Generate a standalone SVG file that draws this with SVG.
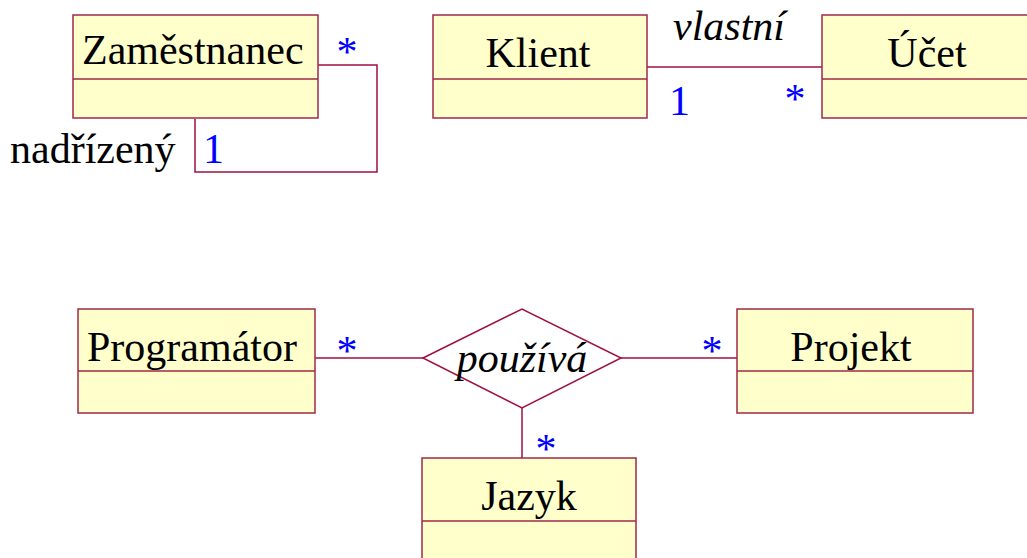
<svg xmlns="http://www.w3.org/2000/svg" width="1027" height="558" viewBox="0 0 1027 558">
<style>
.box{fill:#FFFFCC;stroke:#A0284A;stroke-width:1.5}
.div{stroke:#A0284A;stroke-width:1.5}
.ln{fill:none;stroke:#A0103F;stroke-width:1.5}
.t{font-family:"Liberation Serif","Times New Roman",serif;font-size:42px;fill:#000}
.i{font-style:italic}
.m{font-family:"Liberation Serif","Times New Roman",serif;font-size:42px;fill:#0000FF}
</style>
<rect width="1027" height="558" fill="#fff"/>
<g id="connectors">
<polyline class="ln" points="318,65 377,65 377,172 195,172 195,119"/>
<line class="ln" x1="647" y1="67" x2="822" y2="67"/>
<line class="ln" x1="307" y1="358" x2="423" y2="358"/>
<line class="ln" x1="621" y1="358" x2="737" y2="358"/>
<line class="ln" x1="522" y1="408" x2="522" y2="458"/>
<text class="m" x="347" y="66" text-anchor="middle">*</text>
<text class="t" x="10" y="163">nadřízený</text>
<text class="m" x="203" y="163">1</text>
<text class="t i" x="729" y="40" text-anchor="middle">vlastní</text>
<text class="m" x="669" y="115">1</text>
<text class="m" x="795" y="113" text-anchor="middle">*</text>
<text class="m" x="347" y="365" text-anchor="middle">*</text>
<text class="m" x="712" y="365" text-anchor="middle">*</text>
<text class="m" x="546" y="463" text-anchor="middle">*</text>
</g>
<g id="zamestnanec">
<rect class="box" x="73" y="15" width="245" height="103"/>
<line class="div" x1="73" y1="79" x2="318" y2="79"/>
<text class="t" x="82" y="64">Zaměstnanec</text>
</g>
<g id="klient">
<rect class="box" x="433" y="15" width="214" height="103"/>
<line class="div" x1="433" y1="79" x2="647" y2="79"/>
<text class="t" x="538" y="67" text-anchor="middle">Klient</text>
</g>
<g id="ucet">
<rect class="box" x="822" y="15" width="210" height="103"/>
<line class="div" x1="822" y1="79" x2="1032" y2="79"/>
<text class="t" x="927" y="67" text-anchor="middle">Účet</text>
</g>
<g id="programator">
<rect class="box" x="78" y="309" width="237" height="104"/>
<line class="div" x1="78" y1="371" x2="315" y2="371"/>
<text class="t" x="87" y="361">Programátor</text>
</g>
<g id="pouziva">
<polygon points="423,358 522,309 621,358 522,408" fill="#fff" stroke="#A0103F" stroke-width="1.5"/>
<text class="t i" x="522" y="372" text-anchor="middle">používá</text>
</g>
<g id="projekt">
<rect class="box" x="737" y="309" width="236" height="104"/>
<line class="div" x1="737" y1="371" x2="973" y2="371"/>
<text class="t" x="851" y="361" text-anchor="middle">Projekt</text>
</g>
<g id="jazyk">
<rect class="box" x="422" y="458" width="214" height="110"/>
<line class="div" x1="422" y1="521" x2="636" y2="521"/>
<text class="t" x="529" y="510" text-anchor="middle">Jazyk</text>
</g>
</svg>
